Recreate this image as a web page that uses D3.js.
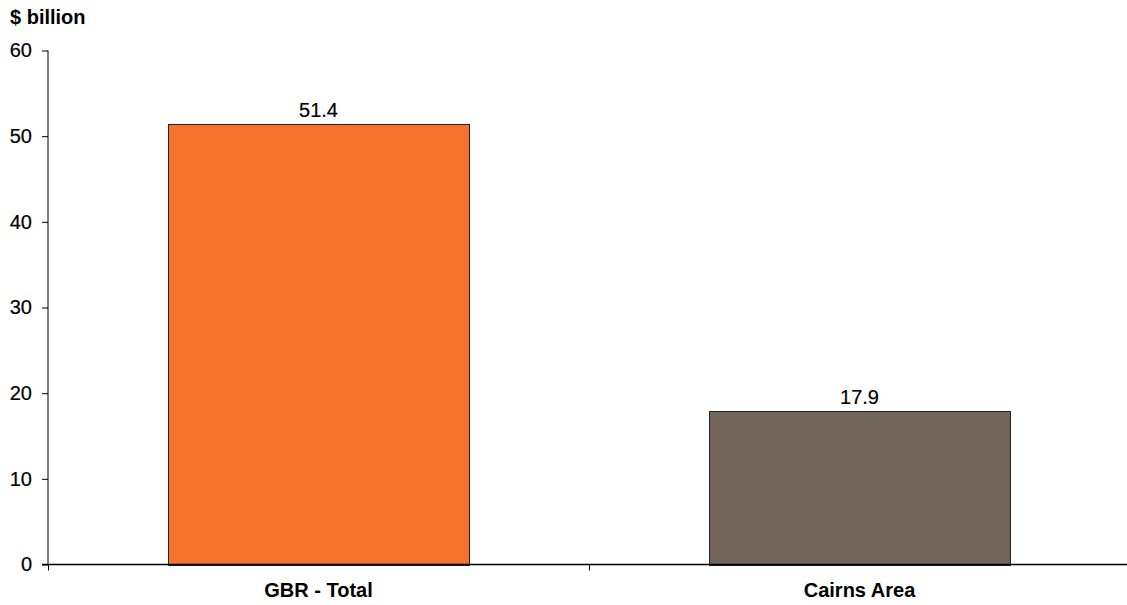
<!DOCTYPE html>
<html><head><meta charset="utf-8">
<script src="https://cdn.jsdelivr.net/npm/d3@7"></script>
<style>
html,body{margin:0;padding:0;background:#fff;}
svg{display:block;font-family:"Liberation Sans",Arial,sans-serif;}
</style></head>
<body>
<svg id="chart" width="1127" height="605"></svg>
<script>
const categories = ["GBR - Total", "Cairns Area"];
const values = [51.4, 17.9];
const valueLabels = ["51.4", "17.9"];
const colors = ["#F5732C", "#72665A"];
const yTicks = [0, 10, 20, 30, 40, 50, 60];
const yTitle = "$ billion";

const svg = d3.select("#chart");
const x0 = 48, x1 = 1130, yTop = 50.5, yBot = 564.5;

const x = d3.scaleBand().domain(categories).range([x0, x1])
  .paddingInner(0.4436).paddingOuter(0.2218);
const y = d3.scaleLinear().domain([0, 60]).range([yBot, yTop]);

// bars
svg.selectAll("rect.bar").data(categories).join("rect")
  .attr("class", "bar")
  .attr("x", d => Math.round(x(d)) + 0.5)
  .attr("y", (d, i) => Math.round(y(values[i])) + 0.5)
  .attr("width", Math.round(x.bandwidth()))
  .attr("height", (d, i) => Math.round(y(0)) - Math.round(y(values[i])))
  .attr("fill", (d, i) => colors[i])
  .attr("stroke", "#222")
  .attr("stroke-width", 1);

// value labels
svg.selectAll("text.val").data(categories).join("text")
  .attr("class", "val")
  .attr("x", d => x(d) + x.bandwidth() / 2)
  .attr("y", (d, i) => y(values[i]) - 7.5)
  .attr("text-anchor", "middle")
  .attr("font-size", 20)
  .attr("fill", "#000")
  .attr("stroke", "#000").attr("stroke-width", 0.2)
  .text((d, i) => valueLabels[i]);

// y axis
const yAxis = d3.axisLeft(y).tickValues(yTicks).tickSize(6).tickPadding(10)
  .tickFormat(d3.format("d"));
const gy = svg.append("g").attr("transform", `translate(${x0},0)`).call(yAxis);
gy.select(".domain").attr("stroke", "#000").attr("d", `M0,${yTop}V${yBot}`);
gy.selectAll(".tick line").attr("stroke", "#000");
gy.selectAll(".tick text").attr("font-size", 20).attr("fill", "#000")
  .attr("stroke", "#000").attr("stroke-width", 0.2)
  .attr("font-family", "Liberation Sans, Arial, sans-serif");

// x axis
const gx = svg.append("g").attr("transform", `translate(0,${yBot})`);
gx.append("line").attr("x1", x0 - 6).attr("x2", 1127).attr("y1", 0).attr("y2", 0)
  .attr("stroke", "#000").attr("stroke-width", 1.5);
const seps = [x0, x(categories[1]) - x.step() * x.paddingInner() / 2];
gx.selectAll("line.sep").data(seps).join("line")
  .attr("class", "sep")
  .attr("x1", d => Math.round(d) + 0.5).attr("x2", d => Math.round(d) + 0.5)
  .attr("y1", 0).attr("y2", 6).attr("stroke", "#000");
gx.selectAll("text.cat").data(categories).join("text")
  .attr("class", "cat")
  .attr("x", d => x(d) + x.bandwidth() / 2)
  .attr("y", 32.5)
  .attr("text-anchor", "middle")
  .attr("font-size", 20).attr("font-weight", "bold").attr("fill", "#000")
  .text(d => d);

// y title
svg.append("text").attr("x", 10).attr("y", 24)
  .attr("font-size", 20).attr("font-weight", "bold").attr("fill", "#000")
  .text(yTitle);
</script>
</body></html>
